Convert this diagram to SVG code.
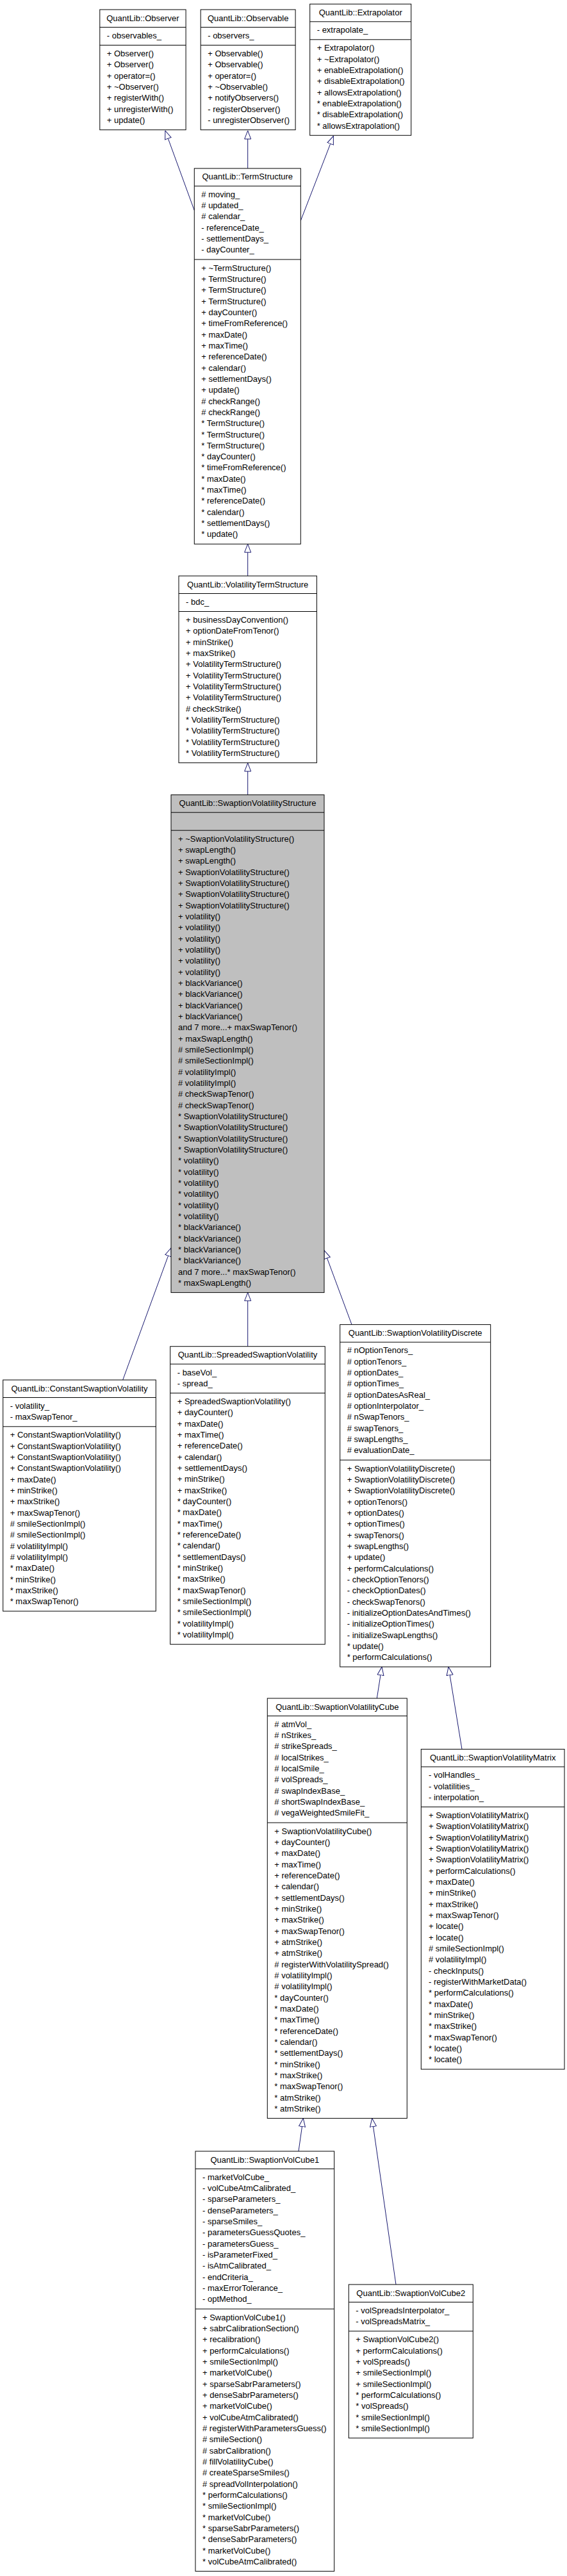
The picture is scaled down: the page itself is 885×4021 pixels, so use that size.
<svg xmlns="http://www.w3.org/2000/svg" width="885" height="4021" viewBox="0 0 885 4021">
<style>
.box{fill:#fff;stroke:#000;stroke-width:1}
.gray{fill:#bfbfbf}
.sep{fill:none;stroke:#000;stroke-width:1}
text{font-family:"Liberation Sans",Arial,sans-serif;font-size:13px;fill:#000}
.ttl{text-anchor:middle}
.edge{fill:none;stroke:#191970;stroke-width:1;marker-end:url(#inh)}
</style>
<defs>
<marker id="inh" viewBox="0 0 14 12" refX="13.5" refY="6" markerWidth="14" markerHeight="12" orient="auto" markerUnits="userSpaceOnUse">
<path d="M0.5,1 L13.5,6 L0.5,11 Z" fill="#fff" stroke="#191970" stroke-width="1"/>
</marker>
</defs>
<rect width="885" height="4021" fill="#fff"/>

<g id="edges">
<path class="edge" d="M303.3,328.4 L257.9,204"/>
<path class="edge" d="M386.7,262.9 L386.7,204"/>
<path class="edge" d="M469.3,344.5 L520.4,212.3"/>
<path class="edge" d="M386.7,899 L386.7,849.2"/>
<path class="edge" d="M386.7,1240.7 L386.7,1191"/>
<path class="edge" d="M191.7,2154 L267,1948"/>
<path class="edge" d="M386.7,2101.7 L386.7,2017.6"/>
<path class="edge" d="M549,2067.6 L506,1951.7"/>
<path class="edge" d="M588.3,2651 L596,2601.9"/>
<path class="edge" d="M721,2730.4 L700,2601.9"/>
<path class="edge" d="M466,3358 L473.3,3306.6"/>
<path class="edge" d="M618,3566 L580.7,3306.6"/>
</g>

<g id="observer">
<rect class="box" x="155.8" y="15" width="134.3" height="187.7"/>
<path class="sep" d="M155.8,42.5 H290.1 M155.8,70.5 H290.1"/>
<text class="ttl" x="222.95" y="32.5">QuantLib::Observer</text>
<text x="166.8" y="59.8">- observables_</text>
<text x="166.8" y="88"><tspan x="166.8" dy="0">+ Observer()</tspan><tspan x="166.8" dy="17.33">+ Observer()</tspan><tspan x="166.8" dy="17.33">+ operator=()</tspan><tspan x="166.8" dy="17.33">+ ~Observer()</tspan><tspan x="166.8" dy="17.33">+ registerWith()</tspan><tspan x="166.8" dy="17.33">+ unregisterWith()</tspan><tspan x="166.8" dy="17.33">+ update()</tspan></text>
</g>

<g id="observable">
<rect class="box" x="313.2" y="15" width="147.9" height="187.7"/>
<path class="sep" d="M313.2,42.5 H461.1 M313.2,70.5 H461.1"/>
<text class="ttl" x="387.15" y="32.5">QuantLib::Observable</text>
<text x="324.2" y="59.8">- observers_</text>
<text x="324.2" y="88"><tspan x="324.2" dy="0">+ Observable()</tspan><tspan x="324.2" dy="17.33">+ Observable()</tspan><tspan x="324.2" dy="17.33">+ operator=()</tspan><tspan x="324.2" dy="17.33">+ ~Observable()</tspan><tspan x="324.2" dy="17.33">+ notifyObservers()</tspan><tspan x="324.2" dy="17.33">- registerObserver()</tspan><tspan x="324.2" dy="17.33">- unregisterObserver()</tspan></text>
</g>

<g id="extrapolator">
<rect class="box" x="483.7" y="6.3" width="158" height="205"/>
<path class="sep" d="M483.7,33.8 H641.7 M483.7,61.8 H641.7"/>
<text class="ttl" x="562.7" y="23.8">QuantLib::Extrapolator</text>
<text x="494.7" y="51.1">- extrapolate_</text>
<text x="494.7" y="79.3"><tspan x="494.7" dy="0">+ Extrapolator()</tspan><tspan x="494.7" dy="17.33">+ ~Extrapolator()</tspan><tspan x="494.7" dy="17.33">+ enableExtrapolation()</tspan><tspan x="494.7" dy="17.33">+ disableExtrapolation()</tspan><tspan x="494.7" dy="17.33">+ allowsExtrapolation()</tspan><tspan x="494.7" dy="17.33">* enableExtrapolation()</tspan><tspan x="494.7" dy="17.33">* disableExtrapolation()</tspan><tspan x="494.7" dy="17.33">* allowsExtrapolation()</tspan></text>
</g>

<g id="termstructure">
<rect class="box" x="303.3" y="262.9" width="166" height="586.3"/>
<path class="sep" d="M303.3,290.4 H469.3 M303.3,405.05 H469.3"/>
<text class="ttl" x="386.3" y="280.4">QuantLib::TermStructure</text>
<text x="314.3" y="307.7"><tspan x="314.3" dy="0"># moving_</tspan><tspan x="314.3" dy="17.33"># updated_</tspan><tspan x="314.3" dy="17.33"># calendar_</tspan><tspan x="314.3" dy="17.33">- referenceDate_</tspan><tspan x="314.3" dy="17.33">- settlementDays_</tspan><tspan x="314.3" dy="17.33">- dayCounter_</tspan></text>
<text x="314.3" y="422.55"><tspan x="314.3" dy="0">+ ~TermStructure()</tspan><tspan x="314.3" dy="17.33">+ TermStructure()</tspan><tspan x="314.3" dy="17.33">+ TermStructure()</tspan><tspan x="314.3" dy="17.33">+ TermStructure()</tspan><tspan x="314.3" dy="17.33">+ dayCounter()</tspan><tspan x="314.3" dy="17.33">+ timeFromReference()</tspan><tspan x="314.3" dy="17.33">+ maxDate()</tspan><tspan x="314.3" dy="17.33">+ maxTime()</tspan><tspan x="314.3" dy="17.33">+ referenceDate()</tspan><tspan x="314.3" dy="17.33">+ calendar()</tspan><tspan x="314.3" dy="17.33">+ settlementDays()</tspan><tspan x="314.3" dy="17.33">+ update()</tspan><tspan x="314.3" dy="17.33"># checkRange()</tspan><tspan x="314.3" dy="17.33"># checkRange()</tspan><tspan x="314.3" dy="17.33">* TermStructure()</tspan><tspan x="314.3" dy="17.33">* TermStructure()</tspan><tspan x="314.3" dy="17.33">* TermStructure()</tspan><tspan x="314.3" dy="17.33">* dayCounter()</tspan><tspan x="314.3" dy="17.33">* timeFromReference()</tspan><tspan x="314.3" dy="17.33">* maxDate()</tspan><tspan x="314.3" dy="17.33">* maxTime()</tspan><tspan x="314.3" dy="17.33">* referenceDate()</tspan><tspan x="314.3" dy="17.33">* calendar()</tspan><tspan x="314.3" dy="17.33">* settlementDays()</tspan><tspan x="314.3" dy="17.33">* update()</tspan></text>
</g>

<g id="volatilitytermstructure">
<rect class="box" x="279" y="899" width="215.4" height="291.7"/>
<path class="sep" d="M279,926.5 H494.4 M279,954.5 H494.4"/>
<text class="ttl" x="386.7" y="916.5">QuantLib::VolatilityTermStructure</text>
<text x="290" y="943.8">- bdc_</text>
<text x="290" y="972"><tspan x="290" dy="0">+ businessDayConvention()</tspan><tspan x="290" dy="17.33">+ optionDateFromTenor()</tspan><tspan x="290" dy="17.33">+ minStrike()</tspan><tspan x="290" dy="17.33">+ maxStrike()</tspan><tspan x="290" dy="17.33">+ VolatilityTermStructure()</tspan><tspan x="290" dy="17.33">+ VolatilityTermStructure()</tspan><tspan x="290" dy="17.33">+ VolatilityTermStructure()</tspan><tspan x="290" dy="17.33">+ VolatilityTermStructure()</tspan><tspan x="290" dy="17.33"># checkStrike()</tspan><tspan x="290" dy="17.33">* VolatilityTermStructure()</tspan><tspan x="290" dy="17.33">* VolatilityTermStructure()</tspan><tspan x="290" dy="17.33">* VolatilityTermStructure()</tspan><tspan x="290" dy="17.33">* VolatilityTermStructure()</tspan></text>
</g>

<g id="swaptionvolatilitystructure">
<rect class="box gray" x="267" y="1240.7" width="239" height="776.9"/>
<path class="sep" d="M267,1268.2 H506 M267,1296.2 H506"/>
<text class="ttl" x="386.5" y="1258.2">QuantLib::SwaptionVolatilityStructure</text>
<text x="278" y="1313.7"><tspan x="278" dy="0">+ ~SwaptionVolatilityStructure()</tspan><tspan x="278" dy="17.33">+ swapLength()</tspan><tspan x="278" dy="17.33">+ swapLength()</tspan><tspan x="278" dy="17.33">+ SwaptionVolatilityStructure()</tspan><tspan x="278" dy="17.33">+ SwaptionVolatilityStructure()</tspan><tspan x="278" dy="17.33">+ SwaptionVolatilityStructure()</tspan><tspan x="278" dy="17.33">+ SwaptionVolatilityStructure()</tspan><tspan x="278" dy="17.33">+ volatility()</tspan><tspan x="278" dy="17.33">+ volatility()</tspan><tspan x="278" dy="17.33">+ volatility()</tspan><tspan x="278" dy="17.33">+ volatility()</tspan><tspan x="278" dy="17.33">+ volatility()</tspan><tspan x="278" dy="17.33">+ volatility()</tspan><tspan x="278" dy="17.33">+ blackVariance()</tspan><tspan x="278" dy="17.33">+ blackVariance()</tspan><tspan x="278" dy="17.33">+ blackVariance()</tspan><tspan x="278" dy="17.33">+ blackVariance()</tspan><tspan x="278" dy="17.33">and 7 more...+ maxSwapTenor()</tspan><tspan x="278" dy="17.33">+ maxSwapLength()</tspan><tspan x="278" dy="17.33"># smileSectionImpl()</tspan><tspan x="278" dy="17.33"># smileSectionImpl()</tspan><tspan x="278" dy="17.33"># volatilityImpl()</tspan><tspan x="278" dy="17.33"># volatilityImpl()</tspan><tspan x="278" dy="17.33"># checkSwapTenor()</tspan><tspan x="278" dy="17.33"># checkSwapTenor()</tspan><tspan x="278" dy="17.33">* SwaptionVolatilityStructure()</tspan><tspan x="278" dy="17.33">* SwaptionVolatilityStructure()</tspan><tspan x="278" dy="17.33">* SwaptionVolatilityStructure()</tspan><tspan x="278" dy="17.33">* SwaptionVolatilityStructure()</tspan><tspan x="278" dy="17.33">* volatility()</tspan><tspan x="278" dy="17.33">* volatility()</tspan><tspan x="278" dy="17.33">* volatility()</tspan><tspan x="278" dy="17.33">* volatility()</tspan><tspan x="278" dy="17.33">* volatility()</tspan><tspan x="278" dy="17.33">* volatility()</tspan><tspan x="278" dy="17.33">* blackVariance()</tspan><tspan x="278" dy="17.33">* blackVariance()</tspan><tspan x="278" dy="17.33">* blackVariance()</tspan><tspan x="278" dy="17.33">* blackVariance()</tspan><tspan x="278" dy="17.33">and 7 more...* maxSwapTenor()</tspan><tspan x="278" dy="17.33">* maxSwapLength()</tspan></text>
</g>

<g id="constantswaptionvolatility">
<rect class="box" x="4.7" y="2154" width="238.6" height="361"/>
<path class="sep" d="M4.7,2181.5 H243.3 M4.7,2226.8 H243.3"/>
<text class="ttl" x="124" y="2171.5">QuantLib::ConstantSwaptionVolatility</text>
<text x="15.7" y="2198.8"><tspan x="15.7" dy="0">- volatility_</tspan><tspan x="15.7" dy="17.33">- maxSwapTenor_</tspan></text>
<text x="15.7" y="2244.3"><tspan x="15.7" dy="0">+ ConstantSwaptionVolatility()</tspan><tspan x="15.7" dy="17.33">+ ConstantSwaptionVolatility()</tspan><tspan x="15.7" dy="17.33">+ ConstantSwaptionVolatility()</tspan><tspan x="15.7" dy="17.33">+ ConstantSwaptionVolatility()</tspan><tspan x="15.7" dy="17.33">+ maxDate()</tspan><tspan x="15.7" dy="17.33">+ minStrike()</tspan><tspan x="15.7" dy="17.33">+ maxStrike()</tspan><tspan x="15.7" dy="17.33">+ maxSwapTenor()</tspan><tspan x="15.7" dy="17.33"># smileSectionImpl()</tspan><tspan x="15.7" dy="17.33"># smileSectionImpl()</tspan><tspan x="15.7" dy="17.33"># volatilityImpl()</tspan><tspan x="15.7" dy="17.33"># volatilityImpl()</tspan><tspan x="15.7" dy="17.33">* maxDate()</tspan><tspan x="15.7" dy="17.33">* minStrike()</tspan><tspan x="15.7" dy="17.33">* maxStrike()</tspan><tspan x="15.7" dy="17.33">* maxSwapTenor()</tspan></text>
</g>

<g id="spreadedswaptionvolatility">
<rect class="box" x="265.7" y="2101.7" width="241.6" height="465"/>
<path class="sep" d="M265.7,2129.2 H507.3 M265.7,2174.5 H507.3"/>
<text class="ttl" x="386.5" y="2119.2">QuantLib::SpreadedSwaptionVolatility</text>
<text x="276.7" y="2146.5"><tspan x="276.7" dy="0">- baseVol_</tspan><tspan x="276.7" dy="17.33">- spread_</tspan></text>
<text x="276.7" y="2192"><tspan x="276.7" dy="0">+ SpreadedSwaptionVolatility()</tspan><tspan x="276.7" dy="17.33">+ dayCounter()</tspan><tspan x="276.7" dy="17.33">+ maxDate()</tspan><tspan x="276.7" dy="17.33">+ maxTime()</tspan><tspan x="276.7" dy="17.33">+ referenceDate()</tspan><tspan x="276.7" dy="17.33">+ calendar()</tspan><tspan x="276.7" dy="17.33">+ settlementDays()</tspan><tspan x="276.7" dy="17.33">+ minStrike()</tspan><tspan x="276.7" dy="17.33">+ maxStrike()</tspan><tspan x="276.7" dy="17.33">* dayCounter()</tspan><tspan x="276.7" dy="17.33">* maxDate()</tspan><tspan x="276.7" dy="17.33">* maxTime()</tspan><tspan x="276.7" dy="17.33">* referenceDate()</tspan><tspan x="276.7" dy="17.33">* calendar()</tspan><tspan x="276.7" dy="17.33">* settlementDays()</tspan><tspan x="276.7" dy="17.33">* minStrike()</tspan><tspan x="276.7" dy="17.33">* maxStrike()</tspan><tspan x="276.7" dy="17.33">* maxSwapTenor()</tspan><tspan x="276.7" dy="17.33">* smileSectionImpl()</tspan><tspan x="276.7" dy="17.33">* smileSectionImpl()</tspan><tspan x="276.7" dy="17.33">* volatilityImpl()</tspan><tspan x="276.7" dy="17.33">* volatilityImpl()</tspan></text>
</g>

<g id="swaptionvolatilitydiscrete">
<rect class="box" x="530.7" y="2067.6" width="235" height="534.3"/>
<path class="sep" d="M530.7,2095.1 H765.7 M530.7,2279.07 H765.7"/>
<text class="ttl" x="648.2" y="2085.1">QuantLib::SwaptionVolatilityDiscrete</text>
<text x="541.7" y="2112.4"><tspan x="541.7" dy="0"># nOptionTenors_</tspan><tspan x="541.7" dy="17.33"># optionTenors_</tspan><tspan x="541.7" dy="17.33"># optionDates_</tspan><tspan x="541.7" dy="17.33"># optionTimes_</tspan><tspan x="541.7" dy="17.33"># optionDatesAsReal_</tspan><tspan x="541.7" dy="17.33"># optionInterpolator_</tspan><tspan x="541.7" dy="17.33"># nSwapTenors_</tspan><tspan x="541.7" dy="17.33"># swapTenors_</tspan><tspan x="541.7" dy="17.33"># swapLengths_</tspan><tspan x="541.7" dy="17.33"># evaluationDate_</tspan></text>
<text x="541.7" y="2296.57"><tspan x="541.7" dy="0">+ SwaptionVolatilityDiscrete()</tspan><tspan x="541.7" dy="17.33">+ SwaptionVolatilityDiscrete()</tspan><tspan x="541.7" dy="17.33">+ SwaptionVolatilityDiscrete()</tspan><tspan x="541.7" dy="17.33">+ optionTenors()</tspan><tspan x="541.7" dy="17.33">+ optionDates()</tspan><tspan x="541.7" dy="17.33">+ optionTimes()</tspan><tspan x="541.7" dy="17.33">+ swapTenors()</tspan><tspan x="541.7" dy="17.33">+ swapLengths()</tspan><tspan x="541.7" dy="17.33">+ update()</tspan><tspan x="541.7" dy="17.33">+ performCalculations()</tspan><tspan x="541.7" dy="17.33">- checkOptionTenors()</tspan><tspan x="541.7" dy="17.33">- checkOptionDates()</tspan><tspan x="541.7" dy="17.33">- checkSwapTenors()</tspan><tspan x="541.7" dy="17.33">- initializeOptionDatesAndTimes()</tspan><tspan x="541.7" dy="17.33">- initializeOptionTimes()</tspan><tspan x="541.7" dy="17.33">- initializeSwapLengths()</tspan><tspan x="541.7" dy="17.33">* update()</tspan><tspan x="541.7" dy="17.33">* performCalculations()</tspan></text>
</g>

<g id="swaptionvolatilitycube">
<rect class="box" x="417.3" y="2651" width="218" height="655.6"/>
<path class="sep" d="M417.3,2678.5 H635.3 M417.3,2845.14 H635.3"/>
<text class="ttl" x="526.3" y="2668.5">QuantLib::SwaptionVolatilityCube</text>
<text x="428.3" y="2695.8"><tspan x="428.3" dy="0"># atmVol_</tspan><tspan x="428.3" dy="17.33"># nStrikes_</tspan><tspan x="428.3" dy="17.33"># strikeSpreads_</tspan><tspan x="428.3" dy="17.33"># localStrikes_</tspan><tspan x="428.3" dy="17.33"># localSmile_</tspan><tspan x="428.3" dy="17.33"># volSpreads_</tspan><tspan x="428.3" dy="17.33"># swapIndexBase_</tspan><tspan x="428.3" dy="17.33"># shortSwapIndexBase_</tspan><tspan x="428.3" dy="17.33"># vegaWeightedSmileFit_</tspan></text>
<text x="428.3" y="2862.64"><tspan x="428.3" dy="0">+ SwaptionVolatilityCube()</tspan><tspan x="428.3" dy="17.33">+ dayCounter()</tspan><tspan x="428.3" dy="17.33">+ maxDate()</tspan><tspan x="428.3" dy="17.33">+ maxTime()</tspan><tspan x="428.3" dy="17.33">+ referenceDate()</tspan><tspan x="428.3" dy="17.33">+ calendar()</tspan><tspan x="428.3" dy="17.33">+ settlementDays()</tspan><tspan x="428.3" dy="17.33">+ minStrike()</tspan><tspan x="428.3" dy="17.33">+ maxStrike()</tspan><tspan x="428.3" dy="17.33">+ maxSwapTenor()</tspan><tspan x="428.3" dy="17.33">+ atmStrike()</tspan><tspan x="428.3" dy="17.33">+ atmStrike()</tspan><tspan x="428.3" dy="17.33"># registerWithVolatilitySpread()</tspan><tspan x="428.3" dy="17.33"># volatilityImpl()</tspan><tspan x="428.3" dy="17.33"># volatilityImpl()</tspan><tspan x="428.3" dy="17.33">* dayCounter()</tspan><tspan x="428.3" dy="17.33">* maxDate()</tspan><tspan x="428.3" dy="17.33">* maxTime()</tspan><tspan x="428.3" dy="17.33">* referenceDate()</tspan><tspan x="428.3" dy="17.33">* calendar()</tspan><tspan x="428.3" dy="17.33">* settlementDays()</tspan><tspan x="428.3" dy="17.33">* minStrike()</tspan><tspan x="428.3" dy="17.33">* maxStrike()</tspan><tspan x="428.3" dy="17.33">* maxSwapTenor()</tspan><tspan x="428.3" dy="17.33">* atmStrike()</tspan><tspan x="428.3" dy="17.33">* atmStrike()</tspan></text>
</g>

<g id="swaptionvolatilitymatrix">
<rect class="box" x="657.3" y="2730.4" width="223.7" height="499.6"/>
<path class="sep" d="M657.3,2757.9 H881 M657.3,2820.56 H881"/>
<text class="ttl" x="769.15" y="2747.9">QuantLib::SwaptionVolatilityMatrix</text>
<text x="669" y="2775.2"><tspan x="669" dy="0">- volHandles_</tspan><tspan x="669" dy="17.33">- volatilities_</tspan><tspan x="669" dy="17.33">- interpolation_</tspan></text>
<text x="669" y="2838.06"><tspan x="669" dy="0">+ SwaptionVolatilityMatrix()</tspan><tspan x="669" dy="17.33">+ SwaptionVolatilityMatrix()</tspan><tspan x="669" dy="17.33">+ SwaptionVolatilityMatrix()</tspan><tspan x="669" dy="17.33">+ SwaptionVolatilityMatrix()</tspan><tspan x="669" dy="17.33">+ SwaptionVolatilityMatrix()</tspan><tspan x="669" dy="17.33">+ performCalculations()</tspan><tspan x="669" dy="17.33">+ maxDate()</tspan><tspan x="669" dy="17.33">+ minStrike()</tspan><tspan x="669" dy="17.33">+ maxStrike()</tspan><tspan x="669" dy="17.33">+ maxSwapTenor()</tspan><tspan x="669" dy="17.33">+ locate()</tspan><tspan x="669" dy="17.33">+ locate()</tspan><tspan x="669" dy="17.33"># smileSectionImpl()</tspan><tspan x="669" dy="17.33"># volatilityImpl()</tspan><tspan x="669" dy="17.33">- checkInputs()</tspan><tspan x="669" dy="17.33">- registerWithMarketData()</tspan><tspan x="669" dy="17.33">* performCalculations()</tspan><tspan x="669" dy="17.33">* maxDate()</tspan><tspan x="669" dy="17.33">* minStrike()</tspan><tspan x="669" dy="17.33">* maxStrike()</tspan><tspan x="669" dy="17.33">* maxSwapTenor()</tspan><tspan x="669" dy="17.33">* locate()</tspan><tspan x="669" dy="17.33">* locate()</tspan></text>
</g>

<g id="swaptionvolcube1">
<rect class="box" x="305" y="3358" width="216.7" height="655.6"/>
<path class="sep" d="M305,3385.5 H521.7 M305,3604.13 H521.7"/>
<text class="ttl" x="413.35" y="3375.5">QuantLib::SwaptionVolCube1</text>
<text x="316" y="3402.8"><tspan x="316" dy="0">- marketVolCube_</tspan><tspan x="316" dy="17.33">- volCubeAtmCalibrated_</tspan><tspan x="316" dy="17.33">- sparseParameters_</tspan><tspan x="316" dy="17.33">- denseParameters_</tspan><tspan x="316" dy="17.33">- sparseSmiles_</tspan><tspan x="316" dy="17.33">- parametersGuessQuotes_</tspan><tspan x="316" dy="17.33">- parametersGuess_</tspan><tspan x="316" dy="17.33">- isParameterFixed_</tspan><tspan x="316" dy="17.33">- isAtmCalibrated_</tspan><tspan x="316" dy="17.33">- endCriteria_</tspan><tspan x="316" dy="17.33">- maxErrorTolerance_</tspan><tspan x="316" dy="17.33">- optMethod_</tspan></text>
<text x="316" y="3621.63"><tspan x="316" dy="0">+ SwaptionVolCube1()</tspan><tspan x="316" dy="17.33">+ sabrCalibrationSection()</tspan><tspan x="316" dy="17.33">+ recalibration()</tspan><tspan x="316" dy="17.33">+ performCalculations()</tspan><tspan x="316" dy="17.33">+ smileSectionImpl()</tspan><tspan x="316" dy="17.33">+ marketVolCube()</tspan><tspan x="316" dy="17.33">+ sparseSabrParameters()</tspan><tspan x="316" dy="17.33">+ denseSabrParameters()</tspan><tspan x="316" dy="17.33">+ marketVolCube()</tspan><tspan x="316" dy="17.33">+ volCubeAtmCalibrated()</tspan><tspan x="316" dy="17.33"># registerWithParametersGuess()</tspan><tspan x="316" dy="17.33"># smileSection()</tspan><tspan x="316" dy="17.33"># sabrCalibration()</tspan><tspan x="316" dy="17.33"># fillVolatilityCube()</tspan><tspan x="316" dy="17.33"># createSparseSmiles()</tspan><tspan x="316" dy="17.33"># spreadVolInterpolation()</tspan><tspan x="316" dy="17.33">* performCalculations()</tspan><tspan x="316" dy="17.33">* smileSectionImpl()</tspan><tspan x="316" dy="17.33">* marketVolCube()</tspan><tspan x="316" dy="17.33">* sparseSabrParameters()</tspan><tspan x="316" dy="17.33">* denseSabrParameters()</tspan><tspan x="316" dy="17.33">* marketVolCube()</tspan><tspan x="316" dy="17.33">* volCubeAtmCalibrated()</tspan></text>
</g>

<g id="swaptionvolcube2">
<rect class="box" x="544.3" y="3566" width="194" height="239.7"/>
<path class="sep" d="M544.3,3593.5 H738.3 M544.3,3638.83 H738.3"/>
<text class="ttl" x="641.3" y="3583.5">QuantLib::SwaptionVolCube2</text>
<text x="555.3" y="3610.8"><tspan x="555.3" dy="0">- volSpreadsInterpolator_</tspan><tspan x="555.3" dy="17.33">- volSpreadsMatrix_</tspan></text>
<text x="555.3" y="3656.33"><tspan x="555.3" dy="0">+ SwaptionVolCube2()</tspan><tspan x="555.3" dy="17.33">+ performCalculations()</tspan><tspan x="555.3" dy="17.33">+ volSpreads()</tspan><tspan x="555.3" dy="17.33">+ smileSectionImpl()</tspan><tspan x="555.3" dy="17.33">+ smileSectionImpl()</tspan><tspan x="555.3" dy="17.33">* performCalculations()</tspan><tspan x="555.3" dy="17.33">* volSpreads()</tspan><tspan x="555.3" dy="17.33">* smileSectionImpl()</tspan><tspan x="555.3" dy="17.33">* smileSectionImpl()</tspan></text>
</g>
</svg>
